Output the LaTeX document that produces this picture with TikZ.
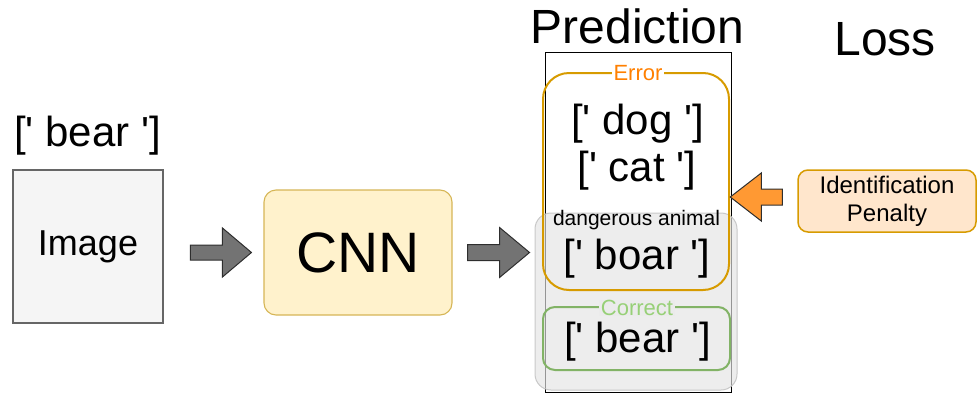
\documentclass[tikz,border=0pt]{standalone}
\usepackage{fontspec}
\setmainfont{Liberation Sans}[Ligatures=TeXOff]
\usetikzlibrary{calc}

\definecolor{imgfill}{HTML}{F5F5F5}
\definecolor{imgline}{HTML}{666666}
\definecolor{cnnfill}{HTML}{FFF2CC}
\definecolor{cnnline}{HTML}{D6B656}
\definecolor{errline}{HTML}{D79B00}
\definecolor{errtext}{HTML}{FF8000}
\definecolor{okline}{HTML}{82B366}
\definecolor{oktext}{HTML}{97D077}
\definecolor{groupfill}{HTML}{E3E3E3}
\definecolor{groupline}{HTML}{C8C8C8}
\definecolor{labelgray}{HTML}{EBEBEB}
\definecolor{arrowfill}{HTML}{737373}
\definecolor{arrowline}{HTML}{2E2E2E}
\definecolor{penfill}{HTML}{FFE6CC}
\definecolor{orangearrow}{HTML}{FF9933}

\newcommand{\pxfont}[2]{\fontsize{#1}{#2}\selectfont}

\tikzset{
  % block arrow: length, head length, head width, shaft width
  pics/blockarrow/.style n args={4}{code={
    \path[pic actions] (0,{-#4/2}) -- ({#1-#2},{-#4/2}) -- ({#1-#2},{-#3/2})
      -- (#1,0) -- ({#1-#2},{#3/2}) -- ({#1-#2},{#4/2}) -- (0,{#4/2}) -- cycle;
  }},
  lbl/.style={inner sep=0pt, anchor=base},
  bigtxt/.style={lbl, font=\pxfont{42}{50}},
  title/.style={lbl, font=\pxfont{48}{56}},
  imgbox/.style={draw=imgline, fill=imgfill, line width=1.1pt,
    minimum width=150, minimum height=153, inner sep=0pt, font=\pxfont{36}{42}},
  cnnbox/.style={draw=cnnline, fill=cnnfill, line width=1.1pt, rounded corners=12pt,
    minimum width=188, minimum height=125, inner sep=0pt, font=\pxfont{57}{66}},
  grayarrow/.style={fill=arrowfill, draw=arrowline, line width=1pt, line join=miter},
  orangearrowstyle/.style={fill=orangearrow, draw=arrowline, line width=1pt, line join=miter},
  framebox/.style={draw=black, line width=1pt, minimum width=186, minimum height=340, inner sep=0pt},
  groupbox/.style={draw=groupline, fill=groupfill, fill opacity=0.66, line width=1pt,
    rounded corners=16pt, minimum width=202, minimum height=177, inner sep=0pt},
  errbox/.style={draw=errline, line width=2pt, rounded corners=26pt,
    minimum width=186, minimum height=217, inner sep=0pt},
  okbox/.style={draw=okline, line width=2pt, rounded corners=12pt,
    minimum width=187, minimum height=63, inner sep=0pt},
  tag/.style={lbl, font=\pxfont{22}{26}, inner xsep=2pt, inner ysep=0.5pt},
  penbox/.style={draw=errline, fill=penfill, line width=1.5pt, rounded corners=10pt,
    minimum width=178, minimum height=62, inner sep=0pt, align=center,
    font=\pxfont{24}{28}},
}

\begin{document}
\begin{tikzpicture}[x=1pt, y=-1pt]
\useasboundingbox (0,0) rectangle (977,394);

% input side
\node[bigtxt] (truth) at (87.5,146) {[' bear ']};
\node[imgbox] (img) at (88,246.5) {Image};
\node[cnnbox] (cnn) at (358,252.5) {CNN};
\pic[grayarrow] at ($(cnn.west)+(-73,0)$) {blockarrow={61}{29}{49}{15}};
\pic[grayarrow] at ($(cnn.east)+(15,0)$) {blockarrow={62}{30}{50}{16}};

% prediction column
\node[title] (predtitle) at (637.5,43) {Prediction};
\node[framebox] (frame) at (638,222) {};
\node[groupbox] (group) at (636,301.5) {};
\node[errbox] (err) at (636,181.5) {};
\node[okbox] (ok) at (636.5,338.5) {};
\node[tag, fill=white, text=errtext] (errtag) at (638,80) {Error};
\node[tag, fill=labelgray, text=oktext] (oktag) at (637,315.5) {Correct};

\node[bigtxt] (dog) at (637.5,134) {[' dog ']};
\node[bigtxt] (cat) at (637,181) {[' cat ']};
\node[lbl, font=\pxfont{21}{25}] (danger) at (636.5,225) {dangerous animal};
\node[bigtxt] (boar) at (637,269) {[' boar ']};
\node[bigtxt] (bear) at (637.5,352.5) {[' bear ']};

% loss side
\node[title] (losstitle) at (885,55) {Loss};
\node[penbox] (pen) at (887,201) {Identification\\Penalty};
\pic[orangearrowstyle, rotate=180] at ($(pen.west)+(-15,-4)$) {blockarrow={52}{31}{48}{16}};
\end{tikzpicture}
\end{document}
